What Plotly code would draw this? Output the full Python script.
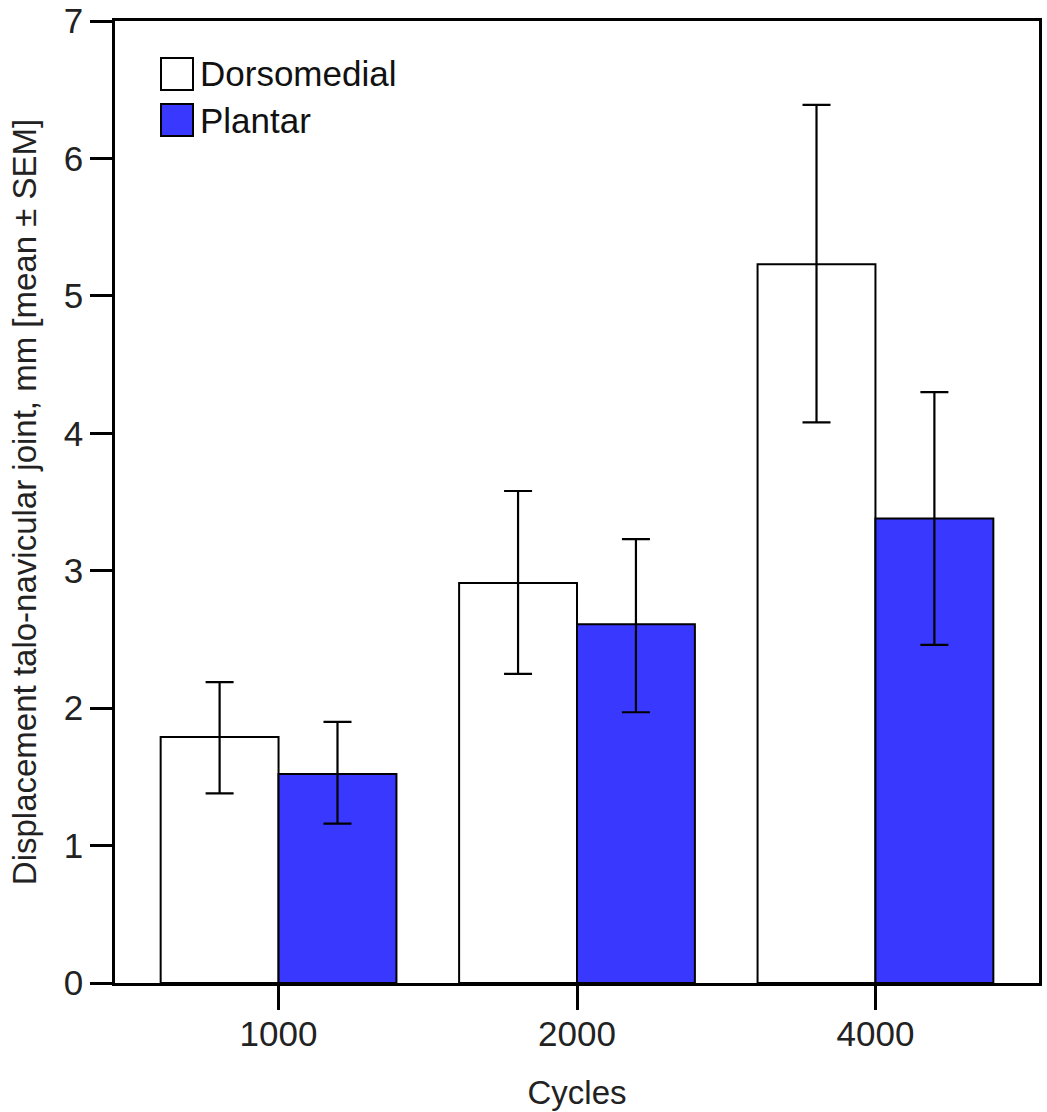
import plotly.graph_objects as go

categories = ["1000", "2000", "4000"]
dorso_mean = [1.79, 2.91, 5.23]
dorso_upper = [2.19, 3.58, 6.39]
dorso_lower = [1.38, 2.25, 4.08]
plant_mean = [1.52, 2.61, 3.38]
plant_upper = [1.90, 3.23, 4.30]
plant_lower = [1.16, 1.97, 2.46]
series_names = ["Dorsomedial", "Plantar"]
y_ticks = [0, 1, 2, 3, 4, 5, 6, 7]

FONT = "Liberation Sans, Arial, sans-serif"
BLUE = "rgb(56,56,255)"

def err(mean, up, lo):
    return dict(type="data", symmetric=False,
                array=[u - m for u, m in zip(up, mean)],
                arrayminus=[m - l for m, l in zip(mean, lo)],
                color="black", thickness=2.2, width=14)

fig = go.Figure()
fig.add_trace(go.Bar(x=categories, y=dorso_mean, name=series_names[0],
                     marker=dict(color="white", line=dict(color="black", width=2)),
                     error_y=err(dorso_mean, dorso_upper, dorso_lower), showlegend=False))
fig.add_trace(go.Bar(x=categories, y=plant_mean, name=series_names[1],
                     marker=dict(color=BLUE, line=dict(color="black", width=2)),
                     error_y=err(plant_mean, plant_upper, plant_lower), showlegend=False))

W, H = 1047, 1112
ml, mr, mt, mb = 115, 8, 21, 129
pw, ph = W - ml - mr, H - mt - mb

def px(x):
    return (x - ml) / pw

def py(y):
    return 1 - (y - mt) / ph

# custom legend
legend_items = [(series_names[0], "white", 74), (series_names[1], BLUE, 120)]
for name, col, yc in legend_items:
    fig.add_shape(type="rect", xref="paper", yref="paper",
                  x0=px(161), x1=px(193), y0=py(yc + 16), y1=py(yc - 16),
                  fillcolor=col, line=dict(color="black", width=2))
    fig.add_annotation(text=name, xref="paper", yref="paper", x=px(198), y=py(yc),
                       xanchor="left", yanchor="middle", showarrow=False,
                       font=dict(family=FONT, size=35, color="#111"))

fig.update_layout(
    width=W, height=H,
    margin=dict(l=ml, r=mr, t=mt, b=mb, autoexpand=False),
    paper_bgcolor="white", plot_bgcolor="white",
    barmode="group", bargap=0.21, bargroupgap=0,
    font=dict(family=FONT, size=34, color="#111"),
    xaxis=dict(type="category", range=[-0.548, 2.548], automargin=False,
               showline=True, linecolor="black", linewidth=2.5, mirror=True,
               ticks="outside", ticklen=24, tickwidth=2.5, tickcolor="black",
               ticklabelstandoff=-6,
               showgrid=False, tickfont=dict(size=35, color="#222"),
               title=dict(text="Cycles", font=dict(size=33, color="#222"), standoff=30)),
    yaxis=dict(range=[0, 7], tickvals=y_ticks, ticktext=[str(v) for v in y_ticks],
               automargin=False,
               showline=True, linecolor="black", linewidth=2.5, mirror=True,
               ticks="outside", ticklen=22, tickwidth=2.5, tickcolor="black",
               showgrid=False, zeroline=False, tickfont=dict(size=35, color="#222"),
               title=dict(text="Displacement talo-navicular joint, mm [mean ± SEM]",
                          font=dict(size=33, color="#222"), standoff=18)),
)

fig.write_html("out.html", config={"displayModeBar": False},
               post_script="document.body.style.margin='0px';document.body.style.overflow='hidden';")
